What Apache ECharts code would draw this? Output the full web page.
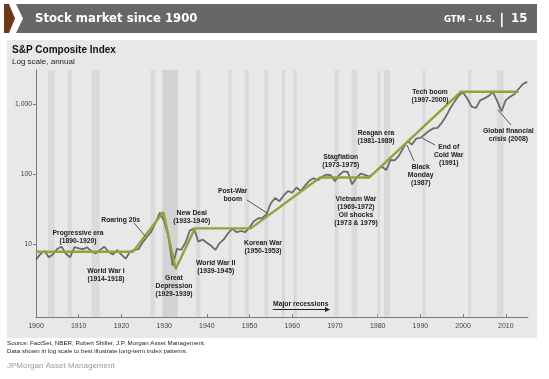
<!DOCTYPE html>
<html><head><meta charset="utf-8">
<script src="https://cdn.jsdelivr.net/npm/echarts@6/dist/echarts.min.js"></script>
<style>html,body{margin:0;padding:0;background:#fff}#c{width:549px;height:379px}</style>
</head><body><div id="c"></div>
<script>
// S&P Composite Index, annual (log scale)
const years = [1900,1901,1902,1903,1904,1905,1906,1907,1908,1909,1910,1911,1912,1913,1914,1915,1916,1917,1918,1919,
1920,1921,1922,1923,1924,1925,1926,1927,1928,1929,1930,1931,1932,1933,1934,1935,1936,1937,1938,1939,
1940,1941,1942,1943,1944,1945,1946,1947,1948,1949,1950,1951,1952,1953,1954,1955,1956,1957,1958,1959,
1960,1961,1962,1963,1964,1965,1966,1967,1968,1969,1970,1971,1972,1973,1974,1975,1976,1977,1978,1979,
1980,1981,1982,1983,1984,1985,1986,1987,1988,1989,1990,1991,1992,1993,1994,1995,1996,1997,1998,1999,
2000,2001,2002,2003,2004,2005,2006,2007,2008,2009,2010,2011,2012,2013,2014,2015];
const index = [6.1,7.3,8.1,6.6,7.3,8.7,9.3,7.4,6.6,9.2,8.8,8.6,9.1,8.0,7.5,8.4,9.3,7.9,7.2,8.3,
7.2,6.3,7.9,8.4,8.6,10.8,12.8,15.3,20.5,28.5,21.5,13.0,5.0,8.7,8.4,10.6,15.8,17.0,11.0,11.8,
10.6,9.6,8.4,10.5,11.9,14.6,16.8,15.0,15.6,15.0,17.5,21.5,23.5,24.0,27.0,39.0,46.0,41.5,50.0,57.5,
55.0,65.0,58.0,69.0,81.0,88.0,82.0,92.0,99.0,97.0,80.0,98.0,110.0,108.0,72.0,88.0,102.0,98.0,93.0,102.0,
118.0,128.0,115.0,160.0,158.0,185.0,236.0,300.0,265.0,322.0,330.0,370.0,415.0,451.0,460.0,540.0,670.0,873.0,1085.0,1330.0,
1470.0,1190.0,920.0,880.0,1130.0,1207.0,1310.0,1480.0,1100.0,790.0,1139.0,1270.0,1380.0,1640.0,1930.0,2070.0];

// Green trend channel
const trendYears  = [1900, 1922.7, 1929.8, 1932.7, 1937.2, 1950.3, 1966.5, 1978.0, 1999.5, 2013.0];
const trendValues = [7.9,  7.9,    29,     4.5,    17,     17,     90,     90,     1500,   1500];

// Major recessions (start, end)
const recessionStart = [1902.8,1907.4,1913.0,1926.8,1929.6,1937.4,1945.1,1948.9,1953.5,1957.6,1960.3,1969.9,1973.9,1980.0,1981.5,1990.5,2001.2,2007.9];
const recessionEnd   = [1904.4,1908.5,1914.9,1927.9,1933.2,1938.5,1945.8,1949.8,1954.4,1958.3,1961.1,1970.9,1975.2,1980.5,1982.9,1991.2,2001.9,2009.5];

const yTicks = [10, 100, 1000];
const xMin = 1900, xMax = 2015.2;

const chart = echarts.init(document.getElementById('c'), null, {renderer:'canvas'});
const ff = "'Liberation Sans', Arial, sans-serif";
const headFont = "'DejaVu Sans Condensed', 'Open Sans', sans-serif";

const bandsData = recessionStart.map((s,i)=>[
  {xAxis:s, itemStyle:{color: (recessionEnd[i]-s>3)?'#d3d3d3':'#dadada'}},
  {xAxis:recessionEnd[i]}
]);

function ann(x, top, text){
  return {type:'text', z:100, style:{text, x, y:top, fill:'#222', font:"bold 6.8px "+ff, align:'center', verticalAlign:'top', lineHeight:8}};
}
function leader(x1,y1,x2,y2){
  return {type:'line', z:99, shape:{x1,y1,x2,y2}, style:{stroke:'#555', lineWidth:1}};
}

const option = {
  animation:false,
  backgroundColor:'#ffffff',
  grid:{left:36, right:21, top:70, bottom:62},
  xAxis:{
    type:'value', min:xMin, max:xMax, interval:10,
    axisLine:{lineStyle:{color:'#7a7a7a', width:1}},
    axisTick:{inside:true, length:3, lineStyle:{color:'#7a7a7a'}},
    axisLabel:{color:'#444', fontSize:7, fontFamily:ff, margin:6, showMaxLabel:false,
      formatter:v => (Math.abs(v%10)<1e-6 ? String(v) : '')},
    splitLine:{show:false}
  },
  yAxis:{
    type:'log', logBase:10, min:0.93, max:3060,
    axisLine:{show:true, lineStyle:{color:'#7a7a7a', width:1}},
    axisTick:{show:true, length:3, customValues:yTicks, lineStyle:{color:'#7a7a7a'}},
    axisLabel:{customValues:yTicks, color:'#444', fontSize:6.8, fontFamily:ff, margin:4,
      formatter:v => v>=1000 ? '1,000' : String(Math.round(v))},
    splitLine:{show:false}
  },
  series:[
    {type:'line', z:1, data:[[1900,10]], symbol:'none', lineStyle:{width:0}, silent:true,
     markArea:{silent:true, data:bandsData}},
    {type:'line', z:3, data:years.map((y,i)=>[y,index[i]]), symbol:'none',
     lineStyle:{color:'#6b6b6b', width:1.8}},
    {type:'line', z:4, data:trendYears.map((y,i)=>[y,trendValues[i]]), symbol:'none',
     lineStyle:{color:'#8da53b', width:2.4}}
  ],
  graphic:[
    {type:'rect', z:-10, shape:{x:7, y:40, width:530, height:298}, style:{fill:'#e8e8e8'}},
    {type:'polygon', z:1, shape:{points:[[4,4],[9,4],[15,18.5],[9,33],[4,33]]}, style:{fill:'#6b3a1d'}},
    {type:'polygon', z:1, shape:{points:[[16,4],[537,4],[537,33],[16,33],[23,18.5]]}, style:{fill:'#676767'}},
    {type:'text', z:2, style:{text:'Stock market since 1900', x:35, y:19, fill:'#fff', font:"600 13px "+headFont, verticalAlign:'middle'}},
    {type:'text', z:2, style:{text:'GTM \u2013 U.S.', x:444, y:20, fill:'#fff', font:"600 9.5px "+headFont, verticalAlign:'middle'}},
    {type:'rect', z:2, shape:{x:501, y:13, width:1.6, height:14}, style:{fill:'#fff'}},
    {type:'text', z:2, style:{text:'15', x:511, y:19, fill:'#fff', font:"600 13px "+headFont, verticalAlign:'middle'}},
    {type:'text', z:2, style:{text:'S&P Composite Index', x:12, y:50.5, fill:'#111', font:"bold 10px "+ff, verticalAlign:'middle'}},
    {type:'text', z:2, style:{text:'Log scale, annual', x:12, y:61.5, fill:'#222', font:"8px "+ff, verticalAlign:'middle'}},
    {type:'text', z:2, style:{text:'Source: FactSet, NBER, Robert Shiller, J.P. Morgan Asset Management.\nData shown in log scale to best illustrate long-term index patterns.', x:7, y:340, fill:'#222', font:"6.2px "+ff, verticalAlign:'top', lineHeight:7.5}},
    {type:'text', z:2, style:{text:'JPMorgan Asset Management', x:7, y:366, fill:'#9a9a9a', font:"8px "+ff, verticalAlign:'middle'}},
    ann(78, 228.7, 'Progressive era\n(1890-1920)'),
    ann(120.7, 216, 'Roaring 20s'),
    ann(191.7, 209.3, 'New Deal\n(1933-1940)'),
    ann(106, 267, 'World War I\n(1914-1918)'),
    ann(174, 274.3, 'Great\nDepression\n(1929-1939)'),
    ann(215.7, 258.7, 'World War II\n(1939-1945)'),
    ann(263, 238.7, 'Korean War\n(1950-1953)'),
    ann(232.7, 187, 'Post-War\nboom'),
    ann(340.7, 152.7, 'Stagflation\n(1973-1975)'),
    ann(356, 195, 'Vietnam War\n(1969-1972)\nOil shocks\n(1973 & 1979)'),
    ann(376, 129.3, 'Reagan era\n(1981-1989)'),
    ann(420.7, 162.7, 'Black\nMonday\n(1987)'),
    ann(448.7, 143.3, 'End of\nCold War\n(1991)'),
    ann(508.3, 127, 'Global financial\ncrisis (2008)'),
    ann(430, 87.7, 'Tech boom\n(1997-2000)'),
    leader(134,223,146,237),
    leader(247,200,267,213),
    leader(414,161,407,145),
    leader(435,145,422,138),
    leader(511,125,498,110),
    {type:'text', z:100, style:{text:'Major recessions', x:273, y:304, fill:'#222', font:"bold 6.8px "+ff, verticalAlign:'middle'}},
    {type:'line', z:100, shape:{x1:273, y1:309.5, x2:326, y2:309.5}, style:{stroke:'#222', lineWidth:1}},
    {type:'polygon', z:100, shape:{points:[[325,307],[330,309.5],[325,312]]}, style:{fill:'#222'}}
  ]
};
chart.setOption(option);
</script></body></html>
